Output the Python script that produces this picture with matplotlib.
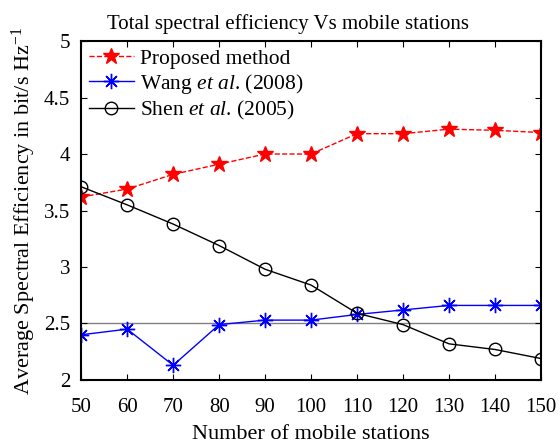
import matplotlib
matplotlib.use("Agg")
import matplotlib.pyplot as plt

plt.rcParams['font.family'] = ['Liberation Serif', 'DejaVu Serif']
plt.rcParams['mathtext.fontset'] = 'custom'
plt.rcParams['mathtext.rm'] = 'Liberation Serif'
plt.rcParams['mathtext.it'] = 'Liberation Serif:italic'

stations = [50, 60, 70, 80, 90, 100, 110, 120, 130, 140, 150]
proposed = [3.62, 3.69, 3.82, 3.91, 4.0, 4.0, 4.18, 4.18, 4.22, 4.21, 4.19]
wang = [2.40, 2.45, 2.13, 2.49, 2.53, 2.53, 2.58, 2.62, 2.66, 2.66, 2.66]
shen = [3.71, 3.55, 3.38, 3.19, 2.98, 2.84, 2.59, 2.49, 2.32, 2.27, 2.19]
ref_level = 2.5

fig = plt.figure(figsize=(5.6, 4.46), dpi=100)
ax = fig.add_axes([0.145, 0.148, 0.821, 0.76])

ax.axhline(ref_level, color='#808080', lw=1, zorder=1)
ax.plot(stations, proposed, color='red', ls='--', lw=1, marker='*',
        ms=12, mfc='red', mec='red', label='Proposed method')
ax.plot(stations, wang, color='blue', lw=1, marker=(8, 2, 0), ms=11,
        mew=1, label=r'Wang $\it{et\ al}$. (2008)')
ax.plot(stations, shen, color='black', lw=1, marker='o', ms=9,
        mfc='none', mec='black', label=r'Shen $\it{et\ al}$. (2005)')

ax.set_xlim(50, 150)
ax.set_ylim(2, 5)
ax.set_xticks(stations)
ax.set_yticks([2, 2.5, 3, 3.5, 4, 4.5, 5])
ax.set_yticklabels(['2', '2.5', '3', '3.5', '4', '4.5', '5'])
ax.tick_params(direction='in', top=True, right=True, labelsize=15, length=4)
ax.tick_params(axis='x', pad=13)
ax.tick_params(axis='y', pad=8)
for s in ax.spines.values():
    s.set_linewidth(1.5)

ax.set_title('Total spectral efficiency Vs mobile stations', fontsize=15,
             pad=9, x=0.45)
ax.set_xlabel('Number of mobile stations', fontsize=16, labelpad=6)
ax.set_ylabel(r'Average Spectral Efficiency in bit/s Hz$^{-1}$', fontsize=16, labelpad=4)

ax.legend(loc='upper left', frameon=False, fontsize=15.5, handlelength=2.1,
          borderaxespad=0.15, borderpad=0.2, handletextpad=0.3, labelspacing=0.15)

fig.savefig('out.png', dpi=100)
